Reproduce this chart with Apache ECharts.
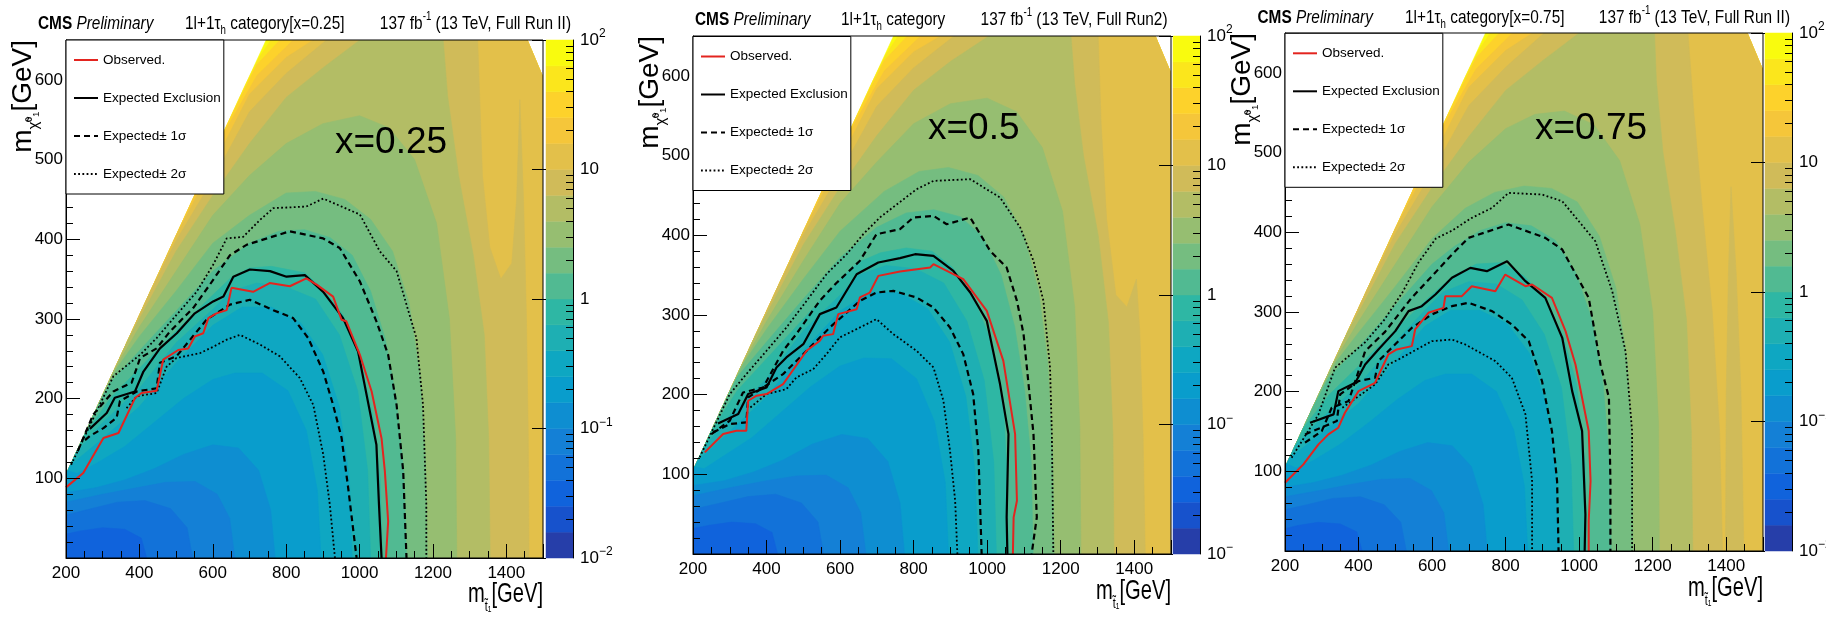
<!DOCTYPE html>
<html><head><meta charset="utf-8">
<script src="https://cdn.jsdelivr.net/npm/echarts@6/dist/echarts.min.js"></script>
<style>html,body{margin:0;padding:0;background:#fff}#c{width:1826px;height:621px}</style>
</head><body><div id="c"></div><script>
// ---------------- DATA ----------------
const xTickLabels = [200,400,600,800,1000,1200,1400];
const yTickLabels = [100,200,300,400,500,600];
const zBandEdges = [-2,-1.8,-1.6,-1.4,-1.2,-1,-0.8,-0.6,-0.4,-0.2,0,0.2,0.4,0.6,0.8,1,1.2,1.4,1.6,1.8,2];
const zLabelVals = [-2,-1,0,1,2];
const legendNames = ['Observed.','Expected Exclusion','Expected\u00b1 1\u03c3','Expected\u00b1 2\u03c3'];
// kinematically allowed region (m_t, m_chi)
const regionPts = [[200,0],[1500,0],[1500,603],[1457,650],[745.5,650],[200,104.5]];

// ---- panel 1 (x=0.25) ----
const p1Obs = [[200,88.6],[247,106.6],[302,150.5],[343,156.8],[388,200.7],[406,207],[447,210],[465,249],[506,261],[533,263],[551,278],[574,282],[588,301],[610,307],[638,311],[651,339],[710,334],[755,345],[810,341],[855,351],[883,343],[928,328],[951,299],[964,297],[1001,255],[1033,209],[1060,150],[1069,109],[1078,46],[1072,0]];
const p1Exp = [[265,162],[311,182],[333,201],[388,209],[411,234],[456,263],[502,282],[551,307],[601,322],[629,328],[656,353],[701,362],[756,360],[801,353],[851,355],[901,334],[955,301],[996,259],[1046,142],[1053,67],[1060,0]];
const p1Up1 = [[232,134],[274,180],[329,209],[379,220],[402,251],[447,263],[483,284],[547,314],[592,343],[647,380],[692,393],[810,410],[901,401],[946,389],[1001,347],[1046,297],[1078,255],[1101,192],[1119,109],[1128,0]];
const p1Dn1 = [[252,148],[265,153],[302,163],[338,176],[347,197],[393,209],[447,213],[456,245],[501,253],[583,299],[647,318],[701,324],[765,311],[819,301],[860,276],[901,234],[928,192],[951,151],[969,88],[992,0]];
const p1Up2 = [[214,117],[329,228],[402,255],[447,276],[501,305],[556,334],[601,368],[638,401],[683,403],[728,424],[765,439],[855,441],[901,451],[1001,431],[1055,385],[1101,360],[1128,318],[1155,276],[1173,192],[1182,67],[1182,0]];
const p1Dn2 = [[365,188],[393,203],[447,207],[474,240],[501,251],[565,257],[601,265],[638,274],[674,280],[728,268],[783,253],[837,226],[874,192],[901,130],[919,67],[933,0]];
// colour-band contours: [log10 level, boundary line]
const p1Contours = [
 [1.8,[[758,650],[725,627],[690,594.5]]],
 [1.6,[[783,650],[720,619],[640,544.5]]],
 [1.4,[[819,650],[720,605],[640,541],[570,474.5]]],
 [1.2,[[874,650],[800,628],[700,582],[600,492],[500,404.5]]],
 [1.0,[[1462,0],[1460,150],[1455,300],[1447,450],[1437,575],[1428,450],[1415,370],[1385,350],[1355,390],[1335,480],[1322,650],[910,650],[800,608],[700,560],[600,475],[500,398],[430,334.5]]],
 [0.8,[[1356,0],[1352,150],[1340,280],[1310,380],[1270,480],[1240,580],[1228,650],[1001,650],[900,615],[800,578],[700,520],[600,455],[500,385],[400,300],[370,274.5]]],
 [0.6,[[1265,0],[1262,150],[1245,300],[1210,420],[1150,500],[1080,540],[1000,555],[900,545],[800,520],[700,480],[600,430],[500,360],[400,290],[330,234.5]]],
 [0.4,[[1185,0],[1180,120],[1165,230],[1135,320],[1090,385],[1030,425],[960,450],[880,460],[800,458],[700,430],[600,395],[500,335],[400,278],[340,239],[300,204.5]]],
 [0.2,[[1128,0],[1120,110],[1100,200],[1070,275],[1030,335],[980,380],[920,402],[850,412],[780,410],[700,395],[600,360],[500,310],[400,260],[320,220],[275,179.5]]],
 [0.0,[[1062,0],[1056,100],[1040,170],[1000,255],[955,305],[900,338],[850,358],[760,366],[700,364],[650,352],[600,330],[500,285],[400,238],[320,200],[250,154.5]]],
 [-0.2,[[1030,0],[1022,110],[995,210],[945,280],[880,325],[800,340],[720,345],[650,335],[600,312],[500,270],[400,213],[300,170],[228,132.5]]],
 [-0.4,[[980,0],[972,100],[945,190],[900,255],[840,295],[760,315],[680,315],[600,292],[500,245],[400,190],[300,150],[212,116.5]]],
 [-0.6,[[895,0],[885,85],[855,160],[805,210],[735,232],[660,232],[600,224],[520,200],[440,170],[360,140],[280,118],[230,106],[205,109.5]]],
 [-0.8,[[770,0],[758,60],[725,110],[670,138],[600,142],[520,130],[440,112],[360,98],[280,88],[200,82]]],
 [-1.0,[[660,0],[646,50],[612,80],[552,96],[472,95],[392,88],[300,80],[200,70]]],
 [-1.2,[[545,0],[530,38],[485,62],[415,72],[340,70],[270,62],[200,54]]],
 [-1.4,[[420,0],[405,25],[360,36],[300,38],[240,34],[200,30]]]
];

// ---- panel 2 (x=0.5) ----
const p2Obs = [[232,127.5],[282,150.5],[318,154.7],[345,154.7],[350,192.3],[373,198.6],[400,200.7],[445,213.2],[509,255],[545,267.5],[554,273.8],[581,275.9],[595,301],[645,307.2],[654,321.9],[681,328.1],[704,349],[763,354.5],[845,359.5],[854,363.7],[935,344.9],[999,305.1],[1044,242.4],[1076,150.5],[1081,66.9],[1072,46],[1070,0]];
const p2Exp = [[268,163.9],[323,175.6],[350,200.7],[400,209],[427,234.1],[454,246.6],[500,263.3],[545,301],[590,309.3],[645,351.1],[704,365.8],[763,371.2],[804,376.2],[854,374.1],[908,355.3],[954,328.1],[999,292.6],[1035,213.2],[1058,150.5],[1053,46],[1055,0]];
const p2Up1 = [[250,150.5],[300,167.2],[336,202.7],[391,209],[445,255],[481,276],[545,318],[590,340],[654,368],[699,401.3],[763,407.6],[799,422.2],[854,424.3],[890,413.8],[954,422.2],[1008,380.4],[1053,359.5],[1081,317.7],[1099,275.9],[1126,150.5],[1135,46],[1121,0]];
const p2Dn1 = [[254.5,152.6],[300,163],[345,165.1],[350,196.5],[391,209],[445,225.7],[500,250.8],[572,284.2],[654,317.7],[699,328.1],[745,330.2],[808,321.9],[854,309.3],[899,284.2],[935,250.8],[962,200.6],[976,129.6],[985,0]];
const p2Up2 = [[218,121.2],[300,200.7],[345,225.7],[400,255],[454,284.2],[509,317.7],[563,351.1],[618,376.2],[663,401.3],[708,422.2],[808,457.7],[854,468.2],[954,470.3],[1035,447.3],[1090,409.6],[1126,367.8],[1153,317.7],[1171,234.1],[1176,150.5],[1180,0]];
const p2Dn2 = [[356,183.9],[400,200.7],[454,206.9],[481,221.5],[527,232],[563,250.8],[599,271.7],[636,280.1],[699,294.7],[745,275.9],[808,255],[854,234.1],[881,192.3],[899,129.6],[913,66.9],[919,0]];
const p2Contours = [
 [1.8,[[758,650],[725,627],[690,594.5]]],
 [1.6,[[783,650],[720,619],[640,544.5]]],
 [1.4,[[819,650],[720,606],[640,541],[570,474.5]]],
 [1.2,[[874,650],[800,630],[700,584],[600,494],[500,404.5]]],
 [1.0,[[1430,0],[1424,150],[1415,280],[1406,345],[1380,310],[1350,325],[1325,420],[1310,540],[1302,650],[910,650],[800,610],[700,562],[600,478],[500,400],[430,334.5]]],
 [0.8,[[1345,0],[1342,150],[1330,290],[1302,400],[1262,500],[1238,590],[1228,650],[1005,650],[900,618],[800,582],[700,525],[600,460],[500,388],[400,301],[370,274.5]]],
 [0.6,[[1255,0],[1252,160],[1238,310],[1205,430],[1150,510],[1080,555],[1000,572],[900,565],[800,540],[700,492],[600,440],[500,368],[400,292],[330,234.5]]],
 [0.4,[[1182,0],[1178,125],[1165,240],[1140,330],[1100,400],[1045,448],[975,475],[895,485],[815,480],[720,455],[600,405],[500,345],[400,282],[340,241],[300,204.5]]],
 [0.2,[[1125,0],[1120,115],[1102,205],[1075,285],[1038,350],[988,398],[928,423],[855,432],[780,428],[700,410],[600,372],[500,320],[400,266],[320,222],[275,179.5]]],
 [0.0,[[1058,0],[1054,100],[1045,180],[1010,268],[960,325],[905,360],[850,380],[780,384],[710,378],[650,366],[600,345],[500,295],[400,245],[320,205],[250,154.5]]],
 [-0.2,[[1025,0],[1018,115],[992,218],[945,292],[882,340],[805,358],[725,362],[650,350],[600,325],[500,280],[400,220],[300,174],[228,132.5]]],
 [-0.4,[[975,0],[967,105],[942,198],[898,266],[838,308],[760,328],[680,328],[600,305],[500,255],[400,197],[300,154],[212,116.5]]],
 [-0.6,[[895,0],[886,90],[857,166],[808,220],[740,245],[665,246],[600,236],[520,210],[440,178],[360,146],[280,122],[230,107],[205,109.5]]],
 [-0.8,[[775,0],[763,64],[730,116],[675,145],[605,150],[525,138],[445,118],[365,103],[285,92],[200,86]]],
 [-1.0,[[670,0],[656,52],[622,83],[562,99],[482,98],[400,92],[300,83],[200,73]]],
 [-1.2,[[555,0],[540,40],[495,64],[425,75],[350,72],[275,64],[200,56]]],
 [-1.4,[[430,0],[415,27],[370,38],[305,40],[245,36],[200,32]]]
];

// ---- panel 3 (x=0.75) ----
const p3Obs = [[200,85.7],[250,108.7],[291,133.8],[318,146.3],[345,154.7],[363,173.5],[400,200.6],[445,211.1],[481,246.6],[504,252.9],[545,257.1],[554,278],[590,298.9],[631,305.1],[636,319.8],[681,319.8],[708,332.3],[772,326],[799,346.9],[854,332.3],[872,334.4],[926,317.7],[963,275.9],[990,234.1],[1026,150.5],[1031,87.8],[1026,37.6],[1026,0]];
const p3Exp = [[268,160.9],[332,171.4],[345,200.6],[391,211.1],[418,234.1],[454,252.9],[500,275.9],[536,301],[572,307.2],[609,321.9],[654,342.8],[704,355.3],[749,351.1],[804,363.7],[854,338.6],[908,317.7],[954,267.5],[981,200.6],[1008,150.5],[1017,46],[1015,0]];
const p3Up1 = [[254.5,135.9],[300,150.5],[327,179.7],[373,188.1],[418,250.8],[472,275],[545,318],[600,345],[654,372],[699,392.9],[808,409.6],[908,392.9],[954,378.3],[1026,317.7],[1058,234.1],[1081,192.3],[1085,87.8],[1085,0]];
const p3Dn1 = [[254.5,146.3],[309,156.8],[341,163],[350,196.5],[400,213.2],[445,217.4],[454,238.3],[545,280.1],[599,296.8],[654,307.2],[699,311.4],[763,301],[817,284.2],[863,263.3],[899,213.2],[926,150.5],[940,87.8],[944,0]];
const p3Up2 = [[218,117],[291,171.4],[336,229.9],[418,262],[470,290],[520,325],[563,362],[610,392],[654,402],[708,418],[763,430.5],[808,449.4],[899,447.3],[954,438.9],[1044,388.7],[1090,326],[1126,250.8],[1144,150.5],[1144,0]];
const p3Dn2 = [[356,179.7],[445,209],[481,234.1],[509,240.4],[599,263.3],[654,265.4],[690,259.2],[772,238.3],[817,217.4],[854,171.4],[872,87.8],[872,0]];
const p3Contours = [
 [1.8,[[758,650],[725,627],[690,594.5]]],
 [1.6,[[783,650],[720,619],[640,544.5]]],
 [1.4,[[819,650],[720,605],[640,541],[570,474.5]]],
 [1.2,[[874,650],[800,628],[700,582],[600,492],[500,404.5]]],
 [1.0,[[1390,0],[1382,150],[1362,300],[1335,430],[1312,550],[1296,650],[905,650],[800,607],[700,559],[600,475],[500,398],[430,334.5]]],
 [1.0,[[1448,0],[1440,200],[1427,350],[1413,457],[1406,350],[1400,200],[1398,0]]],
 [0.8,[[1309,0],[1305,150],[1292,290],[1262,400],[1228,500],[1210,590],[1205,650],[1000,650],[900,615],[800,578],[700,520],[600,456],[500,386],[400,299],[370,274.5]]],
 [0.6,[[1218,0],[1216,160],[1200,300],[1165,410],[1110,490],[1040,535],[960,552],[880,548],[800,530],[700,488],[600,432],[500,360],[400,288],[330,234.5]]],
 [0.4,[[1146,0],[1144,130],[1130,240],[1100,330],[1055,395],[995,438],[925,455],[850,458],[770,450],[690,430],[600,392],[500,332],[400,274],[340,238],[300,204.5]]],
 [0.2,[[1087,0],[1083,110],[1065,210],[1035,290],[990,350],[935,390],[870,408],[800,412],[730,402],[660,382],[600,360],[500,308],[400,256],[320,218],[275,179.5]]],
 [0.0,[[1020,0],[1016,110],[993,210],[956,270],[906,318],[850,345],[790,362],[720,360],[660,346],[600,322],[500,278],[400,232],[320,196],[250,154.5]]],
 [-0.2,[[985,0],[978,108],[952,205],[905,272],[845,315],[775,335],[700,338],[630,325],[580,302],[500,262],[400,208],[300,167],[228,132.5]]],
 [-0.4,[[945,0],[937,98],[910,185],[865,248],[805,285],[730,302],[650,302],[580,282],[500,238],[400,185],[300,148],[212,116.5]]],
 [-0.6,[[860,0],[851,82],[822,152],[775,200],[708,222],[636,222],[580,214],[505,190],[430,162],[350,134],[275,113],[230,104],[205,109.5]]],
 [-0.8,[[750,0],[739,58],[707,106],[655,132],[588,136],[512,125],[435,108],[355,95],[278,86],[200,80]]],
 [-1.0,[[645,0],[632,48],[598,76],[540,91],[462,90],[385,84],[295,76],[200,68]]],
 [-1.2,[[530,0],[515,36],[470,58],[405,68],[330,66],[260,58],[200,52]]],
 [-1.4,[[410,0],[395,24],[350,34],[290,36],[235,32],[200,28]]]
];

// ---------------- STYLE / LAYOUT ----------------
const FONT = '"Liberation Sans", Arial, Helvetica, sans-serif';
const birdStops = [0,0.125,0.25,0.375,0.5,0.625,0.75,0.875,1];
const birdR = [0.2082,0.0592,0.0780,0.0232,0.1802,0.5301,0.8186,0.9956,0.9764];
const birdG = [0.1664,0.3599,0.5041,0.6419,0.7178,0.7492,0.7328,0.7862,0.9832];
const birdB = [0.5293,0.8684,0.8385,0.7914,0.6425,0.4662,0.3499,0.1968,0.0539];
function bird(t){
  t = Math.max(0, Math.min(1, t));
  let i = 0; while (i < birdStops.length - 2 && t > birdStops[i+1]) i++;
  const f = (t - birdStops[i]) / (birdStops[i+1] - birdStops[i]);
  const c = a => Math.round(255 * (a[i] + f * (a[i+1] - a[i])));
  return 'rgb(' + c(birdR) + ',' + c(birdG) + ',' + c(birdB) + ')';
}
const nBands = zBandEdges.length - 1;
const bandColors = [];
for (let k = 0; k < nBands; k++) bandColors.push(bird((k + 0.99) / nBands));
function bandIndexBelow(level){ return Math.round((level - zBandEdges[0]) / (zBandEdges[1]-zBandEdges[0])) - 1; }

// region perimeter helpers (geometry only)
const regCum = [0];
for (let i = 0; i < regionPts.length; i++) {
  const a = regionPts[i], b = regionPts[(i+1) % regionPts.length];
  regCum.push(regCum[i] + Math.hypot(b[0]-a[0], b[1]-a[1]));
}
function perimParam(p){
  let best = Infinity, s = 0;
  for (let i = 0; i < regionPts.length; i++) {
    const a = regionPts[i], b = regionPts[(i+1) % regionPts.length];
    const dx = b[0]-a[0], dy = b[1]-a[1], L2 = dx*dx+dy*dy;
    let t = ((p[0]-a[0])*dx + (p[1]-a[1])*dy) / L2; t = Math.max(0, Math.min(1, t));
    const d = Math.hypot(a[0]+t*dx-p[0], a[1]+t*dy-p[1]);
    if (d < best) { best = d; s = regCum[i] + t*Math.sqrt(L2); }
  }
  return s;
}
function closeContour(c){
  const sS = perimParam(c[0]), sE = perimParam(c[c.length-1]);
  const pts = c.slice();
  const verts = regionPts.map((v,i) => ({v, s: regCum[i]}));
  if (sE < sS) verts.filter(o => o.s > sE && o.s < sS).forEach(o => pts.push(o.v));
  else {
    verts.filter(o => o.s > sE).forEach(o => pts.push(o.v));
    verts.filter(o => o.s < sS).forEach(o => pts.push(o.v));
  }
  return pts;
}
function buildPolys(contours){
  const polys = [{pts: regionPts, color: bandColors[nBands-1]}];
  contours.slice().sort((a,b) => b[0]-a[0]).forEach(([lv, c]) => {
    polys.push({pts: closeContour(c), color: bandColors[bandIndexBelow(lv)]});
  });
  return polys;
}

const panels = [
  {contours:p1Contours, obs:p1Obs, exp:p1Exp, up1:p1Up1, dn1:p1Dn1, up2:p1Up2, dn2:p1Dn2,
   grid:{left:66,top:40,width:477,height:518}, cb:{left:546,top:40,width:27,height:518},
   legend:[66,40], cms:[38,24], cat:[185,24,'1l+1\u03c4{sub|h} category[x=0.25]'], lumi:[571,24,'137 fb{sup|-1} (13 TeV, Full Run II)'],
   xl:[335,143,'x=0.25'], ytitle:[23,40], xtitle:[543,594], cbLab:{'2':'10{sup|2}','1':'10','0':'1','-1':'10{sup|\u22121}','-2':'10{sup|\u22122}'}},
  {contours:p2Contours, obs:p2Obs, exp:p2Exp, up1:p2Up1, dn1:p2Dn1, up2:p2Up2, dn2:p2Dn2,
   grid:{left:693,top:36,width:478,height:518}, cb:{left:1173,top:36,width:27,height:518},
   legend:[693,36.5], cms:[695,20], cat:[841,20,'1l+1\u03c4{sub|h} category'], lumi:[1167.5,20,'137 fb{sup|-1} (13 TeV, Full Run2)'],
   xl:[928,129,'x=0.5'], ytitle:[650,36], xtitle:[1171,591], cbLab:{'2':'10{sup|2}','1':'10','0':'1','-1':'10{sup|\u2212}','-2':'10{sup|\u2212}'}},
  {contours:p3Contours, obs:p3Obs, exp:p3Exp, up1:p3Up1, dn1:p3Dn1, up2:p3Up2, dn2:p3Dn2,
   grid:{left:1285,top:33,width:478,height:518}, cb:{left:1765,top:33,width:27,height:518},
   legend:[1285,33.3], cms:[1257.5,18], cat:[1405,18,'1l+1\u03c4{sub|h} category[x=0.75]'], lumi:[1790,18,'137 fb{sup|-1} (13 TeV, Full Run II)'],
   xl:[1535,129,'x=0.75'], ytitle:[1242,33], xtitle:[1763,588], cbLab:{'2':'10{sup|2}','1':'10','0':'1','-1':'10{sup|\u22121}','-2':'10{sup|\u22122}'}}
];

const minorLogTicks = [];
for (let d = -2; d < 2; d++) for (let m = 2; m <= 9; m++) minorLogTicks.push(d + Math.log10(m));

const grids = [], xAxes = [], yAxes = [], series = [], legends = [], graphics = [];
const black = '#000';
const richSmall = {
  sub:{fontSize:12, lineHeight:12, verticalAlign:'bottom', fontFamily:FONT, fill:black, color:black},
  sup:{fontSize:12, lineHeight:12, verticalAlign:'top', fontFamily:FONT, fill:black, color:black}
};
const TITLE_SX = 0.81;

panels.forEach((P, pi) => {
  const gi = grids.length;
  grids.push(Object.assign({show:true, borderColor:black, borderWidth:1, backgroundColor:'transparent', z:4, containLabel:false, outerBoundsMode:'none'}, P.grid));
  grids.push(Object.assign({show:false, containLabel:false, outerBoundsMode:'none'}, P.cb));
  const xi = xAxes.length;
  xAxes.push({gridIndex:gi, type:'value', min:200, max:1500, interval:200, z:5,
    axisLine:{show:true, onZero:false, lineStyle:{color:black, width:1}},
    axisTick:{show:true, inside:true, length:14, lineStyle:{color:black, width:1}},
    minorTick:{show:true, splitNumber:4, length:7, lineStyle:{color:black, width:1}},
    splitLine:{show:false}, minorSplitLine:{show:false},
    axisLabel:{show:true, showMaxLabel:false, showMinLabel:true, color:black, fontFamily:FONT, fontSize:17, margin:7,
      formatter: v => String(v)}});
  xAxes.push({gridIndex:gi+1, type:'value', min:0, max:1, show:false});
  const yi = yAxes.length;
  yAxes.push({gridIndex:gi, type:'value', min:0, max:650, interval:100, z:5,
    axisLine:{show:true, onZero:false, lineStyle:{color:black, width:1}},
    axisTick:{show:true, inside:true, length:14, lineStyle:{color:black, width:1}},
    minorTick:{show:true, splitNumber:5, length:7, lineStyle:{color:black, width:1}},
    splitLine:{show:false}, minorSplitLine:{show:false},
    axisLabel:{show:true, showMinLabel:false, showMaxLabel:false, color:black, fontFamily:FONT, fontSize:17, margin:3,
      formatter: v => String(v)}});
  yAxes.push({gridIndex:gi+1, type:'value', min:-2, max:2, position:'right', z:5,
    axisLine:{show:true, onZero:false, lineStyle:{color:black, width:1}},
    axisTick:{show:true, inside:true, length:7, customValues:minorLogTicks, lineStyle:{color:black, width:1}},
    splitLine:{show:false},
    axisLabel:{show:true, customValues:zLabelVals, color:black, fontFamily:FONT, fontSize:17, margin:7, lineHeight:24,
      formatter: v => P.cbLab[String(Math.round(v))], rich:richSmall}});
  yAxes.push({gridIndex:gi+1, type:'value', min:-2, max:2, position:'right', z:5,
    axisLine:{show:false}, splitLine:{show:false}, axisLabel:{show:false},
    axisTick:{show:true, inside:true, length:14, customValues:zLabelVals, lineStyle:{color:black, width:1}}});

  const polys = buildPolys(P.contours);
  series.push({type:'custom', name:'limit'+pi, xAxisIndex:xi, yAxisIndex:yi, z:1, silent:true, clip:true,
    data: polys.map((p,i) => [i]),
    renderItem: (params, api) => {
      const poly = polys[params.dataIndex];
      return {type:'polygon', shape:{points: poly.pts.map(pt => api.coord(pt))},
              style:{fill: poly.color, stroke: poly.color, lineWidth: 0.6}};
    }});
  series.push({type:'custom', name:'colorbar'+pi, xAxisIndex:xi+1, yAxisIndex:yi+1, z:1, silent:true,
    data: zBandEdges.slice(0, nBands).map((lo,k) => [k]),
    renderItem: (params, api) => {
      const k = params.dataIndex;
      const a = api.coord([0, zBandEdges[k+1]]), b = api.coord([1, zBandEdges[k]]);
      return {type:'rect', shape:{x:a[0], y:a[1], width:b[0]-a[0], height:b[1]-a[1]},
              style:{fill:bandColors[k], stroke:bandColors[k], lineWidth:0.5}};
    }});
  const mk = (name, data, color, width, type) => ({type:'line', name, data, xAxisIndex:xi, yAxisIndex:yi,
    symbol:'none', showSymbol:false, z:3, silent:true, smooth:false,
    lineStyle:{color, width, type}, itemStyle:{color}});
  series.push(mk(legendNames[3], P.up2, '#000', 1.8, [1.8,2.4]));
  series.push(mk(legendNames[3], P.dn2, '#000', 1.8, [1.8,2.4]));
  series.push(mk(legendNames[2], P.up1, '#000', 2.2, [6,4]));
  series.push(mk(legendNames[2], P.dn1, '#000', 2.2, [6,4]));
  series.push(mk(legendNames[1], P.exp, '#000', 2.2, 'solid'));
  series.push(mk(legendNames[0], P.obs, '#e3241f', 2, 'solid'));

  legends.push({orient:'vertical', left:P.legend[0], top:P.legend[1], padding:[13,3,13,7], itemGap:24,
    itemWidth:24, itemHeight:14, backgroundColor:'#fff', borderColor:black, borderWidth:1, borderRadius:0,
    selectedMode:false, z:10, itemStyle:{opacity:0, color:'transparent', borderWidth:0},
    textStyle:{fontFamily:FONT, fontSize:13.5, color:black}, data:legendNames.slice()});

  const txt = (x, y, text, extra, sx) => graphics.push(Object.assign({type:'text', x, y, z:20, scaleX: sx || 1,
    style:Object.assign({text, fontFamily:FONT, fill:black}, extra)}));
  txt(P.cms[0], P.cms[1], '{b|CMS} {i|Preliminary}', {fontSize:19, align:'left', verticalAlign:'middle',
    textAlign:'left', textVerticalAlign:'middle',
    rich:{b:{fontWeight:'bold', fontSize:19, fontFamily:FONT, fill:black}, i:{fontStyle:'italic', fontSize:19, fontFamily:FONT, fill:black}}}, TITLE_SX);
  txt(P.cat[0], P.cat[1], P.cat[2], {fontSize:19, lineHeight:26, align:'left', verticalAlign:'middle',
    textAlign:'left', textVerticalAlign:'middle', rich:richSmall}, TITLE_SX);
  txt(P.lumi[0], P.lumi[1], P.lumi[2], {fontSize:19, lineHeight:26, align:'right', verticalAlign:'middle',
    textAlign:'right', textVerticalAlign:'middle', rich:richSmall}, TITLE_SX);
  txt(P.xl[0], P.xl[1], P.xl[2], {fontSize:37, align:'left', verticalAlign:'middle', textAlign:'left', textVerticalAlign:'middle'}, 1);
  graphics.push({type:'text', x:P.ytitle[0], y:P.ytitle[1], rotation:Math.PI/2, z:20, style:{text:'m{s|\u03c7\u0303\u2070\u2081}[GeV]',
    fontFamily:FONT, fontSize:28, lineHeight:36, fill:black, align:'right', verticalAlign:'middle', textAlign:'right', textVerticalAlign:'middle',
    rich:{s:{fontSize:15, lineHeight:15, verticalAlign:'bottom', fontFamily:FONT, fill:black}}}});
  txt(P.xtitle[0], P.xtitle[1], 'm{s|t\u0303\u2081}[GeV]', {fontSize:28, lineHeight:40, align:'right', verticalAlign:'middle',
    textAlign:'right', textVerticalAlign:'middle', rich:{s:{fontSize:15, lineHeight:15, verticalAlign:'bottom', fontFamily:FONT, fill:black}}}, 0.72);
});

const chart = echarts.init(document.getElementById('c'), null, {renderer:'canvas', width:1826, height:621});
chart.setOption({
  animation:false, backgroundColor:'#fff',
  textStyle:{fontFamily:FONT, color:black},
  grid:grids, xAxis:xAxes, yAxis:yAxes, series, legend:legends, graphic:graphics
});
</script></body></html>
